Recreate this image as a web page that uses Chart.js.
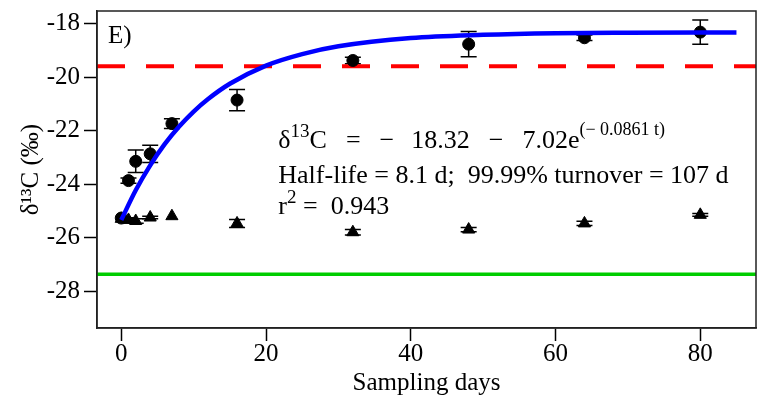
<!DOCTYPE html>
<html>
<head>
<meta charset="utf-8">
<script src="https://cdn.jsdelivr.net/npm/chart.js@4.4.1/dist/chart.umd.min.js"></script>
<style>
  html, body { margin: 0; padding: 0; background: #fff; }
  #wrap { width: 758px; height: 398px; }
</style>
</head>
<body>
<div id="wrap"><canvas id="isoChart"></canvas></div>
<script>
const sampleDays = [0, 1, 2, 4, 7, 16, 32, 48, 64, 80];
const circleValues = [-25.27, -23.87, -23.15, -22.87, -21.74, -20.86, -19.38, -18.77, -18.53, -18.32];
const circleErrors = [0, 0.1, 0.42, 0.32, 0.18, 0.4, 0.12, 0.47, 0.1, 0.45];
const triangleValues = [-25.3, -25.34, -25.38, -25.25, -25.2, -25.47, -25.8, -25.7, -25.47, -25.15];
const triangleErrors = [0, 0.08, 0.08, 0.05, 0, 0.15, 0.1, 0.08, 0.08, 0.05];

// fitted curve
const fitDays = [0, 2, 4, 6, 8, 10, 12, 15, 20, 25, 30, 40, 50, 60, 70, 85];
const fitValues = [-25.34, -24.23, -23.3, -22.51, -21.85, -21.29, -20.82, -20.25, -19.57, -19.14, -18.85, -18.54, -18.42, -18.36, -18.34, -18.33];

// reference lines
const redLineValue = -19.6;
const greenLineValue = -27.37;

// axes
const xRange = [-3.35, 87.7];
const yRange = [-29.38, -17.53];
const xTicks = [0, 20, 40, 60, 80];
const xTickLabels = ['0', '20', '40', '60', '80'];
const yTicks = [-28, -26, -24, -22, -20, -18];
const yTickLabels = ['-28', '-26', '-24', '-22', '-20', '-18'];

const serif = '"Liberation Serif", "Times New Roman", serif';

// error bars drawn under the points
const errorBars = {
    id: 'errorBars',
    beforeDatasetsDraw(chart) {
        const {ctx, scales: {x, y}} = chart;
        ctx.save();
        ctx.strokeStyle = '#000';
        ctx.lineWidth = 1.5;
        [[circleValues, circleErrors], [triangleValues, triangleErrors]].forEach(([vals, errs]) => {
            sampleDays.forEach((d, i) => {
                if (!errs[i]) return;
                const px = x.getPixelForValue(d);
                const top = y.getPixelForValue(vals[i] + errs[i]);
                const bot = y.getPixelForValue(vals[i] - errs[i]);
                ctx.beginPath();
                ctx.moveTo(px, top); ctx.lineTo(px, bot);
                ctx.moveTo(px - 8, top); ctx.lineTo(px + 8, top);
                ctx.moveTo(px - 8, bot); ctx.lineTo(px + 8, bot);
                ctx.stroke();
            });
        });
        ctx.restore();
    }
};

// box, panel letter and the fit text
function drawRuns(ctx, x, y, runs) {
    runs.forEach(r => {
        x += r.gap || 0;
        ctx.font = r.size + 'px ' + serif;
        ctx.fillText(r.text, x, y + (r.dy || 0));
        x += ctx.measureText(r.text).width;
    });
}

const annotations = {
    id: 'annotations',
    afterDraw(chart) {
        const {ctx, chartArea: a, scales: {x}} = chart;
        ctx.save();
        ctx.strokeStyle = '#222';
        ctx.lineWidth = 1.5;
        ctx.strokeRect(a.left, a.top, a.right - a.left, a.bottom - a.top);

        ctx.fillStyle = '#000';
        ctx.textBaseline = 'alphabetic';
        ctx.textAlign = 'left';
        ctx.font = '25px ' + serif;
        ctx.fillText('E)', a.left + 11, a.top + 32);

        const tx = x.getPixelForValue(21.7);
        drawRuns(ctx, tx, 148, [
            {text: 'δ', size: 26},
            {text: '13', size: 19, dy: -11},
            {text: 'C', size: 26},
            {text: '=', size: 26, gap: 19},
            {text: '−', size: 26, gap: 19},
            {text: '18.32', size: 26, gap: 17},
            {text: '−', size: 26, gap: 19},
            {text: '7.02e', size: 26, gap: 19},
            {text: '(− 0.0861 t)', size: 18, dy: -13}
        ]);
        drawRuns(ctx, tx, 183, [
            {text: 'Half-life = 8.1 d;  99.99% turnover = 107 d', size: 26}
        ]);
        drawRuns(ctx, tx, 214, [
            {text: 'r', size: 26},
            {text: '2', size: 19, dy: -11},
            {text: ' =  0.943', size: 26}
        ]);
        ctx.restore();
    }
};

const chartData = {
    datasets: [
        {
            label: 'fit',
            data: fitDays.map((d, i) => ({x: d, y: fitValues[i]})),
            borderColor: '#0000ff',
            borderWidth: 4.5,
            pointRadius: 0,
            cubicInterpolationMode: 'monotone',
            order: 0
        },
        {
            label: 'circles',
            data: sampleDays.map((d, i) => ({x: d, y: circleValues[i]})),
            showLine: false,
            pointStyle: 'circle',
            pointRadius: 6,
            pointBackgroundColor: '#000',
            pointBorderColor: '#000',
            order: 1
        },
        {
            label: 'triangles',
            data: sampleDays.map((d, i) => ({x: d, y: triangleValues[i]})),
            showLine: false,
            pointStyle: 'triangle',
            pointRadius: 7,
            pointBackgroundColor: '#000',
            pointBorderColor: '#000',
            order: 1
        },
        {
            label: 'red',
            data: xRange.map(d => ({x: d, y: redLineValue})),
            borderColor: '#ff0000',
            borderWidth: 4,
            borderDash: [28, 21],
            pointRadius: 0,
            order: 2
        },
        {
            label: 'green',
            data: xRange.map(d => ({x: d, y: greenLineValue})),
            borderColor: '#00cd00',
            borderWidth: 3.5,
            pointRadius: 0,
            order: 2
        }
    ]
};

const chartOptions = {
    responsive: true,
    maintainAspectRatio: false,
    animation: false,
    layout: {autoPadding: false, padding: {left: 0, top: 11, right: 2, bottom: 0}},
    plugins: {
        legend: {display: false},
        tooltip: {enabled: false}
    },
    scales: {
        x: {
            type: 'linear',
            min: xRange[0],
            max: xRange[1],
            afterBuildTicks: s => { s.ticks = xTicks.map(v => ({value: v})); },
            afterFit: s => { s.height = 70; s.paddingLeft = 0; s.paddingRight = 0; },
            grid: {
                drawOnChartArea: false,
                drawTicks: true,
                tickLength: 13,
                tickWidth: 1.5,
                color: '#000'
            },
            border: {display: true, color: '#222', width: 1.5},
            ticks: {
                color: '#000',
                padding: 0,
                maxRotation: 0,
                font: {family: serif, size: 25, lineHeight: 1.1},
                callback: v => xTickLabels[xTicks.indexOf(v)]
            },
            title: {
                display: true,
                text: 'Sampling days',
                color: '#000',
                padding: {top: 0, bottom: 0},
                font: {family: serif, size: 25}
            }
        },
        y: {
            type: 'linear',
            min: yRange[0],
            max: yRange[1],
            afterBuildTicks: s => { s.ticks = yTicks.map(v => ({value: v})); },
            afterFit: s => { s.width = 97; s.paddingTop = 0; s.paddingBottom = 0; },
            grid: {
                drawOnChartArea: false,
                drawTicks: true,
                tickLength: 13,
                tickWidth: 1.5,
                color: '#000'
            },
            border: {display: true, color: '#222', width: 1.5},
            ticks: {
                color: '#000',
                padding: 4,
                font: {family: serif, size: 25},
                callback: v => yTickLabels[yTicks.indexOf(v)]
            },
            title: {
                display: true,
                text: 'δ¹³C (‰)',
                color: '#000',
                padding: {top: 16, bottom: 0},
                font: {family: serif, size: 25}
            }
        }
    }
};

const isoChart = new Chart(document.getElementById('isoChart'), {
    type: 'line',
    data: chartData,
    options: chartOptions,
    plugins: [errorBars, annotations]
});
</script>
</body>
</html>
